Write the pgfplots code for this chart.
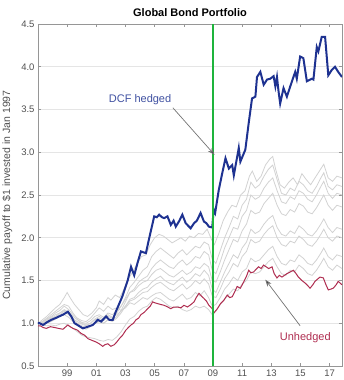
\documentclass[border=0pt]{standalone}
\usepackage{pgfplots}
\pgfplotsset{compat=1.18}
\usepackage{fontspec}
\setmainfont{Liberation Sans}
\usetikzlibrary{arrows.meta}
\definecolor{dcfblue}{RGB}{30,50,145}
\definecolor{unred}{RGB}{175,45,80}
\definecolor{vgreen}{RGB}{30,180,60}
\definecolor{glight}{RGB}{210,210,210}
\definecolor{tickgray}{RGB}{80,80,80}
\definecolor{framegray}{RGB}{150,150,150}
\begin{document}
\begin{tikzpicture}
\begin{axis}[
  at={(0,0)}, anchor=south west,
  width=304pt, height=342pt, scale only axis,
  xmin=1997, xmax=2017.85, ymin=0.5, ymax=4.5,
  xtick={1999,2001,2003,2005,2007,2009,2011,2013,2015,2017},
  xticklabels={99,01,03,05,07,09,11,13,15,17},
  ytick={0.5,1.0,1.5,2.0,2.5,3.0,3.5,4.0,4.5},
  yticklabel style={/pgf/number format/.cd,fixed,fixed zerofill,precision=1},
  /pgf/number format/assume math mode=true,
  ymajorgrids, grid style={draw=black!10, line width=0.6pt},
  axis line style={draw=framegray, line width=0.6pt},
  tick style={draw=framegray, line width=0.6pt},
  major tick length=3pt,
  ticklabel style={font=\fontsize{9.5}{11}\selectfont, text=tickgray},
  title={\textbf{Global Bond Portfolio}},
  title style={font=\fontsize{11}{13}\selectfont, yshift=-2pt},
  ylabel={Cumulative payoff to \$1 invested in Jan 1997},
  ylabel style={font=\fontsize{10.5}{12}\selectfont, text=tickgray, yshift=2pt},
  clip=true,
]
% gray alternative portfolios
\addplot[glight, line width=0.8pt] coordinates {(1997.0,1.00)(1997.3,1.04)(1997.6,1.08)(1997.9,1.13)(1998.2,1.18)(1998.5,1.22)(1998.8,1.30)(1999.0,1.36)(1999.2,1.30)(1999.5,1.22)(1999.8,1.16)(2000.1,1.10)(2000.4,1.08)(2000.7,1.12)(2001.0,1.18)(2001.2,1.26)(2001.5,1.22)(2001.8,1.30)(2002.0,1.27)(2002.3,1.33)(2002.6,1.30)(2002.9,1.40)(2003.2,1.52)(2003.5,1.60)(2003.8,1.70)(2004.1,1.78)(2004.4,1.80)(2004.7,1.92)(2005.0,2.00)(2005.3,2.04)(2005.6,2.02)(2005.9,1.98)(2006.2,1.94)(2006.5,1.97)(2006.8,2.00)(2007.1,1.96)(2007.4,2.02)(2007.7,2.00)(2008.0,2.05)(2008.3,2.04)(2008.6,2.10)(2008.9,1.98)(2009.1,1.92)(2009.4,2.05)(2009.7,2.20)(2010.0,2.30)(2010.3,2.38)(2010.6,2.36)(2010.9,2.50)(2011.2,2.55)(2011.5,2.72)(2011.7,2.78)(2012.0,2.66)(2012.3,2.72)(2012.6,2.85)(2012.9,2.92)(2013.1,2.95)(2013.3,2.80)(2013.6,2.62)(2013.9,2.58)(2014.2,2.65)(2014.5,2.70)(2014.8,2.62)(2015.1,2.75)(2015.4,2.68)(2015.7,2.62)(2016.0,2.70)(2016.3,2.78)(2016.6,2.86)(2016.9,2.70)(2017.2,2.66)(2017.5,2.72)(2017.85,2.70)};
\addplot[glight, line width=0.8pt] coordinates {(1997.0,1.00)(1997.3,1.02)(1997.6,1.06)(1997.9,1.10)(1998.2,1.14)(1998.5,1.18)(1998.8,1.22)(1999.1,1.20)(1999.4,1.12)(1999.7,1.05)(2000.0,1.00)(2000.3,0.98)(2000.6,1.00)(2000.9,1.04)(2001.2,1.06)(2001.5,1.03)(2001.8,1.08)(2002.1,1.06)(2002.4,1.12)(2002.7,1.20)(2003.0,1.30)(2003.3,1.42)(2003.6,1.48)(2003.9,1.55)(2004.2,1.62)(2004.5,1.66)(2004.8,1.78)(2005.1,1.84)(2005.4,1.88)(2005.7,1.84)(2006.0,1.80)(2006.3,1.76)(2006.6,1.82)(2006.9,1.86)(2007.2,1.80)(2007.5,1.85)(2007.8,1.90)(2008.1,1.88)(2008.4,1.95)(2008.7,1.92)(2008.95,1.75)(2009.2,1.70)(2009.5,1.85)(2009.8,2.00)(2010.1,2.12)(2010.4,2.25)(2010.7,2.22)(2011.0,2.38)(2011.3,2.45)(2011.6,2.65)(2011.9,2.58)(2012.2,2.62)(2012.5,2.72)(2012.8,2.80)(2013.1,2.85)(2013.4,2.68)(2013.7,2.52)(2014.0,2.50)(2014.3,2.58)(2014.6,2.55)(2014.9,2.66)(2015.2,2.62)(2015.5,2.55)(2015.8,2.52)(2016.1,2.60)(2016.4,2.70)(2016.6,2.76)(2016.9,2.60)(2017.2,2.56)(2017.5,2.62)(2017.85,2.60)};
\addplot[glight, line width=0.8pt] coordinates {(1997.0,1.00)(1997.3,0.99)(1997.6,1.02)(1997.9,1.05)(1998.2,1.08)(1998.5,1.12)(1998.8,1.15)(1999.1,1.12)(1999.4,1.06)(1999.7,1.00)(2000.0,0.97)(2000.3,0.95)(2000.6,0.97)(2000.9,1.00)(2001.2,1.02)(2001.5,1.00)(2001.8,1.04)(2002.1,1.03)(2002.4,1.08)(2002.7,1.15)(2003.0,1.25)(2003.3,1.36)(2003.6,1.40)(2003.9,1.48)(2004.2,1.52)(2004.5,1.55)(2004.8,1.64)(2005.1,1.70)(2005.4,1.74)(2005.7,1.70)(2006.0,1.66)(2006.3,1.64)(2006.6,1.70)(2006.9,1.74)(2007.2,1.68)(2007.5,1.72)(2007.8,1.78)(2008.1,1.76)(2008.4,1.84)(2008.7,1.80)(2008.95,1.62)(2009.2,1.58)(2009.5,1.72)(2009.8,1.88)(2010.1,2.00)(2010.4,2.12)(2010.7,2.10)(2011.0,2.25)(2011.3,2.32)(2011.6,2.50)(2011.9,2.45)(2012.2,2.48)(2012.5,2.58)(2012.8,2.65)(2013.1,2.70)(2013.4,2.55)(2013.7,2.42)(2014.0,2.40)(2014.3,2.48)(2014.6,2.45)(2014.9,2.55)(2015.2,2.52)(2015.5,2.45)(2015.8,2.42)(2016.1,2.50)(2016.4,2.60)(2016.6,2.66)(2016.9,2.52)(2017.2,2.46)(2017.5,2.52)(2017.85,2.50)};
\addplot[glight, line width=0.8pt] coordinates {(1997.0,1.00)(1997.3,1.01)(1997.6,1.04)(1997.9,1.07)(1998.2,1.10)(1998.5,1.12)(1998.8,1.16)(1999.1,1.13)(1999.4,1.08)(1999.7,1.04)(2000.0,1.01)(2000.3,1.00)(2000.6,1.03)(2000.9,1.08)(2001.2,1.10)(2001.5,1.07)(2001.8,1.12)(2002.1,1.10)(2002.4,1.15)(2002.7,1.20)(2003.0,1.28)(2003.3,1.36)(2003.6,1.38)(2003.9,1.44)(2004.2,1.48)(2004.5,1.50)(2004.8,1.57)(2005.1,1.62)(2005.4,1.64)(2005.7,1.60)(2006.0,1.56)(2006.3,1.54)(2006.6,1.58)(2006.9,1.62)(2007.2,1.57)(2007.5,1.60)(2007.8,1.66)(2008.1,1.64)(2008.4,1.70)(2008.7,1.66)(2008.95,1.50)(2009.2,1.48)(2009.5,1.60)(2009.8,1.74)(2010.1,1.86)(2010.4,1.98)(2010.7,1.95)(2011.0,2.08)(2011.3,2.16)(2011.6,2.32)(2011.9,2.28)(2012.2,2.30)(2012.5,2.40)(2012.8,2.46)(2013.1,2.52)(2013.4,2.38)(2013.7,2.28)(2014.0,2.26)(2014.3,2.33)(2014.6,2.30)(2014.9,2.40)(2015.2,2.37)(2015.5,2.30)(2015.8,2.28)(2016.1,2.35)(2016.4,2.44)(2016.6,2.50)(2016.9,2.38)(2017.2,2.32)(2017.5,2.38)(2017.85,2.36)};
\addplot[glight, line width=0.8pt] coordinates {(1997.0,1.00)(1997.3,0.98)(1997.6,1.00)(1997.9,1.02)(1998.2,1.05)(1998.5,1.08)(1998.8,1.10)(1999.1,1.07)(1999.4,1.02)(1999.7,0.98)(2000.0,0.95)(2000.3,0.93)(2000.6,0.96)(2000.9,1.00)(2001.2,1.02)(2001.5,1.00)(2001.8,1.04)(2002.1,1.02)(2002.4,1.06)(2002.7,1.12)(2003.0,1.20)(2003.3,1.28)(2003.6,1.30)(2003.9,1.36)(2004.2,1.40)(2004.5,1.42)(2004.8,1.48)(2005.1,1.52)(2005.4,1.55)(2005.7,1.50)(2006.0,1.47)(2006.3,1.45)(2006.6,1.50)(2006.9,1.54)(2007.2,1.48)(2007.5,1.52)(2007.8,1.58)(2008.1,1.55)(2008.4,1.62)(2008.7,1.56)(2008.95,1.40)(2009.2,1.36)(2009.5,1.48)(2009.8,1.60)(2010.1,1.70)(2010.4,1.80)(2010.7,1.76)(2011.0,1.88)(2011.3,1.95)(2011.6,2.10)(2011.9,2.05)(2012.2,2.08)(2012.5,2.16)(2012.8,2.22)(2013.1,2.26)(2013.4,2.12)(2013.7,2.04)(2014.0,2.02)(2014.3,2.08)(2014.6,2.05)(2014.9,2.14)(2015.2,2.10)(2015.5,2.04)(2015.8,2.02)(2016.1,2.08)(2016.4,2.16)(2016.6,2.22)(2016.9,2.12)(2017.2,2.06)(2017.5,2.12)(2017.85,2.10)};
\addplot[glight, line width=0.8pt] coordinates {(1997.0,1.00)(1997.3,1.00)(1997.6,1.03)(1997.9,1.06)(1998.2,1.08)(1998.5,1.10)(1998.8,1.14)(1999.1,1.10)(1999.4,1.05)(1999.7,1.02)(2000.0,0.99)(2000.3,0.97)(2000.6,1.00)(2000.9,1.05)(2001.2,1.08)(2001.5,1.05)(2001.8,1.10)(2002.1,1.07)(2002.4,1.10)(2002.7,1.14)(2003.0,1.20)(2003.3,1.26)(2003.6,1.28)(2003.9,1.32)(2004.2,1.36)(2004.5,1.37)(2004.8,1.42)(2005.1,1.46)(2005.4,1.48)(2005.7,1.44)(2006.0,1.40)(2006.3,1.38)(2006.6,1.42)(2006.9,1.46)(2007.2,1.40)(2007.5,1.44)(2007.8,1.50)(2008.1,1.46)(2008.4,1.52)(2008.7,1.46)(2008.95,1.32)(2009.2,1.30)(2009.5,1.40)(2009.8,1.52)(2010.1,1.60)(2010.4,1.70)(2010.7,1.66)(2011.0,1.78)(2011.3,1.84)(2011.6,1.98)(2011.9,1.94)(2012.2,1.96)(2012.5,2.04)(2012.8,2.10)(2013.1,2.14)(2013.4,2.00)(2013.7,1.92)(2014.0,1.90)(2014.3,1.96)(2014.6,1.94)(2014.9,2.02)(2015.2,1.98)(2015.5,1.92)(2015.8,1.90)(2016.1,1.96)(2016.4,2.04)(2016.6,2.10)(2016.9,2.00)(2017.2,1.96)(2017.5,2.02)(2017.85,2.00)};
\addplot[glight, line width=0.8pt] coordinates {(1997.0,1.00)(1997.3,1.02)(1997.6,1.05)(1997.9,1.08)(1998.2,1.12)(1998.5,1.15)(1998.8,1.20)(1999.1,1.16)(1999.4,1.10)(1999.7,1.06)(2000.0,1.03)(2000.3,1.02)(2000.6,1.06)(2000.9,1.12)(2001.2,1.18)(2001.5,1.14)(2001.8,1.20)(2002.1,1.16)(2002.4,1.18)(2002.7,1.15)(2003.0,1.18)(2003.3,1.24)(2003.6,1.22)(2003.9,1.26)(2004.2,1.30)(2004.5,1.28)(2004.8,1.32)(2005.1,1.35)(2005.4,1.36)(2005.7,1.32)(2006.0,1.28)(2006.3,1.26)(2006.6,1.30)(2006.9,1.34)(2007.2,1.28)(2007.5,1.30)(2007.8,1.36)(2008.1,1.32)(2008.4,1.38)(2008.7,1.30)(2008.95,1.20)(2009.2,1.22)(2009.5,1.30)(2009.8,1.40)(2010.1,1.46)(2010.4,1.54)(2010.7,1.50)(2011.0,1.60)(2011.3,1.64)(2011.6,1.76)(2011.9,1.72)(2012.2,1.74)(2012.5,1.80)(2012.8,1.86)(2013.1,1.90)(2013.4,1.78)(2013.7,1.70)(2014.0,1.68)(2014.3,1.74)(2014.6,1.72)(2014.9,1.80)(2015.2,1.76)(2015.5,1.70)(2015.8,1.68)(2016.1,1.74)(2016.4,1.82)(2016.6,1.88)(2016.9,1.78)(2017.2,1.74)(2017.5,1.80)(2017.85,1.78)};
\addplot[glight, line width=0.8pt] coordinates {(1997.0,1.00)(1997.3,0.98)(1997.6,0.97)(1997.9,0.98)(1998.2,0.97)(1998.5,0.99)(1998.8,1.00)(1999.1,0.97)(1999.4,0.94)(1999.7,0.90)(2000.0,0.86)(2000.3,0.84)(2000.6,0.83)(2000.9,0.82)(2001.2,0.80)(2001.5,0.79)(2001.8,0.81)(2002.1,0.80)(2002.4,0.84)(2002.7,0.90)(2003.0,0.98)(2003.3,1.05)(2003.6,1.08)(2003.9,1.14)(2004.2,1.18)(2004.5,1.20)(2004.8,1.26)(2005.1,1.30)(2005.4,1.28)(2005.7,1.24)(2006.0,1.20)(2006.3,1.18)(2006.6,1.20)(2006.9,1.16)(2007.2,1.14)(2007.5,1.16)(2007.8,1.20)(2008.1,1.18)(2008.4,1.20)(2008.7,1.16)(2008.95,1.10)(2009.2,1.14)(2009.5,1.22)(2009.8,1.28)(2010.1,1.34)(2010.4,1.40)(2010.7,1.38)(2011.0,1.46)(2011.3,1.50)(2011.6,1.60)(2011.9,1.58)(2012.2,1.60)(2012.5,1.66)(2012.8,1.72)(2013.1,1.76)(2013.4,1.66)(2013.7,1.58)(2014.0,1.56)(2014.3,1.62)(2014.6,1.60)(2014.9,1.68)(2015.2,1.64)(2015.5,1.58)(2015.8,1.56)(2016.1,1.62)(2016.4,1.70)(2016.6,1.76)(2016.9,1.66)(2017.2,1.62)(2017.5,1.68)(2017.85,1.64)};
% unhedged
\addplot[unred, line width=1pt] coordinates {(1997.0,0.97)(1997.18,0.968)(1997.35,0.95)(1997.57,0.94)(1997.85,0.96)(1998.14,0.95)(1998.4,0.94)(1998.71,0.93)(1999.05,0.98)(1999.2,0.96)(1999.40,0.94)(1999.7,0.92)(1999.96,0.88)(2000.2,0.86)(2000.42,0.82)(2000.7,0.80)(2000.99,0.78)(2001.2,0.76)(2001.44,0.73)(2001.6,0.75)(2001.79,0.76)(2002.0,0.73)(2002.24,0.75)(2002.4,0.78)(2002.58,0.82)(2002.8,0.86)(2003.03,0.92)(2003.2,0.95)(2003.38,0.98)(2003.55,1.00)(2003.72,1.04)(2003.9,1.06)(2004.06,1.10)(2004.3,1.13)(2004.52,1.17)(2004.7,1.20)(2004.86,1.25)(2005.0,1.24)(2005.20,1.23)(2005.4,1.22)(2005.65,1.21)(2005.9,1.19)(2006.11,1.17)(2006.3,1.19)(2006.56,1.19)(2006.8,1.18)(2007.01,1.21)(2007.25,1.19)(2007.5,1.22)(2007.70,1.25)(2007.85,1.30)(2008.04,1.35)(2008.2,1.32)(2008.38,1.29)(2008.55,1.26)(2008.72,1.21)(2008.95,1.17)(2009.06,1.12)(2009.3,1.17)(2009.52,1.23)(2009.75,1.27)(2009.98,1.33)(2010.15,1.30)(2010.32,1.31)(2010.5,1.37)(2010.66,1.43)(2010.88,1.41)(2011.1,1.48)(2011.3,1.55)(2011.45,1.62)(2011.6,1.59)(2011.79,1.60)(2011.95,1.63)(2012.13,1.66)(2012.3,1.64)(2012.47,1.68)(2012.65,1.66)(2012.82,1.64)(2013.05,1.66)(2013.2,1.58)(2013.39,1.53)(2013.55,1.56)(2013.73,1.54)(2013.9,1.56)(2014.07,1.58)(2014.3,1.60)(2014.52,1.62)(2014.7,1.58)(2014.86,1.54)(2015.1,1.50)(2015.32,1.47)(2015.5,1.44)(2015.66,1.41)(2015.85,1.45)(2016.00,1.49)(2016.2,1.52)(2016.34,1.54)(2016.57,1.53)(2016.75,1.45)(2016.91,1.39)(2017.1,1.40)(2017.25,1.41)(2017.45,1.45)(2017.59,1.49)(2017.85,1.45)};
% DCF hedged
\addplot[dcfblue, line width=2pt] coordinates {(1997.0,1.00)(1997.12,1.00)(1997.35,0.98)(1997.6,1.01)(1997.91,1.04)(1998.2,1.06)(1998.45,1.08)(1998.71,1.10)(1999.05,1.135)(1999.28,1.08)(1999.51,1.00)(1999.8,0.97)(2000.08,0.94)(2000.42,0.96)(2000.76,0.98)(2001.10,1.04)(2001.33,1.02)(2001.67,1.08)(2001.89,1.04)(2002.13,1.04)(2002.3,1.12)(2002.5,1.20)(2002.8,1.32)(2003.15,1.50)(2003.38,1.66)(2003.60,1.56)(2003.85,1.72)(2004.06,1.84)(2004.40,1.82)(2004.62,1.99)(2004.97,2.25)(2005.15,2.24)(2005.31,2.27)(2005.5,2.24)(2005.65,2.23)(2005.88,2.25)(2006.11,2.15)(2006.3,2.20)(2006.45,2.13)(2006.7,2.20)(2006.90,2.27)(2007.13,2.17)(2007.3,2.14)(2007.47,2.11)(2007.70,2.17)(2007.9,2.20)(2008.15,2.29)(2008.38,2.19)(2008.55,2.17)(2008.72,2.13)(2008.95,2.12)(2009.05,2.33)(2009.15,2.29)(2009.40,2.56)(2009.63,2.75)(2009.86,2.93)(2010.09,2.81)(2010.32,2.85)(2010.43,2.73)(2010.77,3.05)(2010.88,2.89)(2011.22,3.03)(2011.45,3.34)(2011.68,3.63)(2011.91,3.65)(2012.02,3.88)(2012.25,3.94)(2012.48,3.79)(2012.71,3.85)(2012.93,3.86)(2013.16,3.89)(2013.28,3.77)(2013.39,3.88)(2013.50,3.71)(2013.61,3.57)(2013.84,3.75)(2014.07,3.65)(2014.30,3.77)(2014.52,3.88)(2014.64,3.94)(2014.75,3.86)(2014.98,4.12)(2015.20,4.10)(2015.44,3.83)(2015.78,3.86)(2015.89,3.85)(2016.12,4.23)(2016.23,4.18)(2016.46,4.35)(2016.69,4.35)(2016.91,3.90)(2017.14,3.96)(2017.37,4.00)(2017.59,3.94)(2017.85,3.88)};
% vertical marker
\addplot[vgreen, line width=2.4pt] coordinates {(2009,0.5)(2009,4.5)};
% annotations
\draw[black!55, line width=0.7pt, -{Stealth[length=7pt,width=5pt,fill=black!80]}] (axis cs:2006.25,3.52) -- (axis cs:2009.11,2.97);
\draw[black!55, line width=0.7pt, -{Stealth[length=7pt,width=5pt,fill=black!80]}] (axis cs:2014.98,0.97) -- (axis cs:2012.59,1.51);
\node[text=dcfblue!85!white, font=\fontsize{11}{13}\selectfont] at (axis cs:2004.0,3.61) {DCF hedged};
\node[text=unred, font=\fontsize{11}{13}\selectfont] at (axis cs:2015.33,0.83) {Unhedged};
\end{axis}
\pgfresetboundingbox
\path (-38pt,-14pt) rectangle (305pt,366pt);
\end{tikzpicture}
\end{document}
